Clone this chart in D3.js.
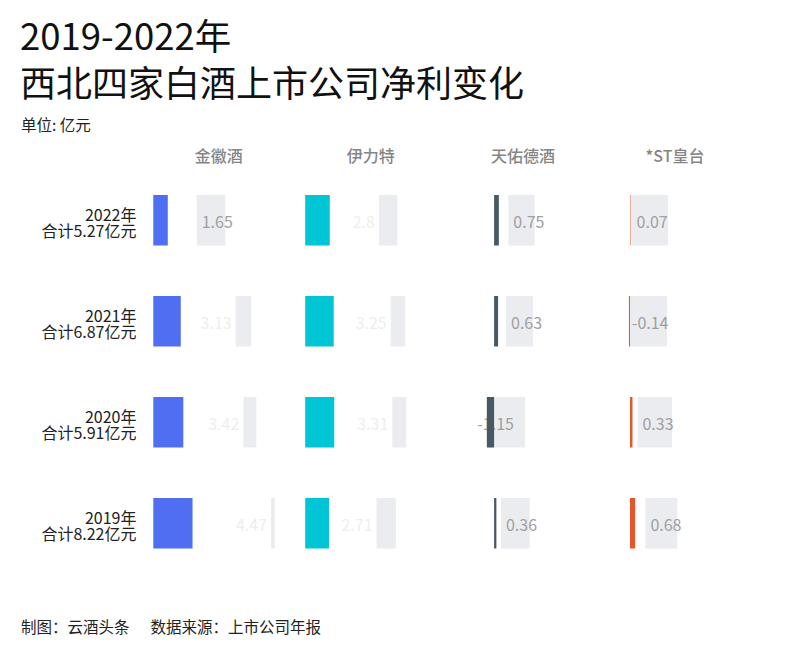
<!DOCTYPE html>
<meta charset="utf-8">
<style>
body { margin: 0; background: #fff; }
svg { font-family: "Noto Sans CJK SC", "Noto Sans", sans-serif; }
.title { font-size: 36.5px; fill: #111; }
.unit { font-size: 15.5px; fill: #222; }
.head { font-size: 16px; fill: #858585; font-weight: 500; }
.rowlab { font-size: 16px; fill: #222; }
.track { fill: #ebecf0; }
.val { font-size: 16px; }
.foot { font-size: 15.5px; fill: #222; }
</style>
<svg width="800" height="654"></svg>
<script src="https://cdn.jsdelivr.net/npm/d3@7"></script>
<script>

// data
var companies = ["金徽酒", "伊力特", "天佑德酒", "*ST皇台"];
var years = ["2022年", "2021年", "2020年", "2019年"];
var totals = ["5.27", "6.87", "5.91", "8.22"];
var jinhui = [1.65, 3.13, 3.42, 4.47];
var yilite = [2.8, 3.25, 3.31, 2.71];
var tianyou = [0.75, 0.63, -1.15, 0.36];
var huangtai = [0.07, -0.14, 0.33, 0.68];

// layout / style per column
var colors = ["#4f6ef2", "#00c5d4", "#455a64", "#e5562a"];
var zeroOffset = [10.6, 10.4, 47.2, 31];
var trackW = [43, 43, 31, 37];

var series = [jinhui, yilite, tianyou, huangtai];

var svg = d3.select("svg");

var col = d3.scaleBand().domain(companies).range([142.7, 751.1]);
var row = d3.scaleBand().domain(years).range([144.5, 599]).paddingInner(0.5).paddingOuter(0.5);

// titles
svg.append("text").attr("class", "title").attr("x", 20).attr("y", 50).text("2019-2022年");
svg.append("text").attr("class", "title").attr("x", 20).attr("y", 97).style("font-size", "36px").text("西北四家白酒上市公司净利变化");
svg.append("text").attr("class", "unit").attr("x", 21).attr("y", 131).text("单位: 亿元");

// column heads
svg.selectAll(".head")
  .data(companies)
  .enter().append("text")
    .attr("class", "head")
    .attr("x", function(d) { return col(d) + col.bandwidth() / 2; })
    .attr("y", 162)
    .attr("text-anchor", "middle")
    .text(function(d) { return d; });

// row labels
var rl = svg.selectAll(".rowlab")
  .data(years)
  .enter().append("text")
    .attr("class", "rowlab")
    .attr("text-anchor", "end")
    .attr("y", function(d) { return row(d) + row.bandwidth() / 2 + 1; });
rl.append("tspan")
    .attr("x", 136.5)
    .text(function(d) { return d; });
rl.append("tspan")
    .attr("x", 136.5)
    .attr("dy", 16)
    .text(function(d, i) { return "合计" + totals[i] + "亿元"; });

// cells
companies.forEach(function(c, ci) {
  var x0 = col(c) + zeroOffset[ci];
  var xs = d3.scaleLinear().domain([0, 4.9]).range([0, trackW[ci]]);
  var cells = years.map(function(y, i) { return {year: y, v: series[ci][i]}; });

  var g = svg.append("g");

  g.selectAll(".track")
    .data(cells)
    .enter().append("rect")
      .attr("class", "track")
      .attr("x", function(d) { return x0 + 3 * Math.max(0, xs(d.v)); })
      .attr("y", function(d) { return row(d.year); })
      .attr("width", function(d) { return trackW[ci] - Math.max(0, xs(d.v)); })
      .attr("height", row.bandwidth());

  g.selectAll(".val")
    .data(cells)
    .enter().append("text")
      .attr("class", "val")
      .attr("x", function(d) {
        var bw = xs(d.v);
        return bw > 20 ? x0 + 3 * bw - 4 : x0 + 3 * bw + 5;
      })
      .attr("y", function(d) { return row(d.year) + row.bandwidth() / 2 + 7.5; })
      .attr("text-anchor", function(d) { return xs(d.v) > 20 ? "end" : "start"; })
      .style("fill", function(d) { return xs(d.v) > 20 ? "#eeeeee" : "#a0a0a0"; })
      .text(function(d) { return d.v; });

  g.selectAll(".bar")
    .data(cells)
    .enter().append("rect")
      .attr("class", "bar")
      .attr("x", function(d) { return x0 + Math.min(0, xs(d.v)); })
      .attr("y", function(d) { return row(d.year); })
      .attr("width", function(d) { return Math.abs(xs(d.v)); })
      .attr("height", row.bandwidth())
      .style("fill", colors[ci]);
});

// footer
var ft = svg.append("text").attr("class", "foot").attr("x", 21).attr("y", 633);
ft.append("tspan").text("制图：云酒头条");
ft.append("tspan").attr("dx", 21).text("数据来源：上市公司年报");

</script>
